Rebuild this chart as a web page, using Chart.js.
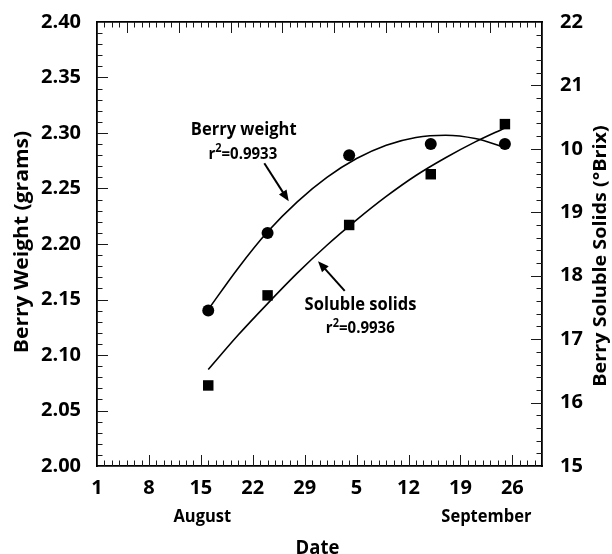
<!DOCTYPE html>
<html><head><meta charset="utf-8">
<script src="https://cdn.jsdelivr.net/npm/chart.js@4.4.1/dist/chart.umd.min.js"></script>
<style>html,body{margin:0;padding:0;background:#fff}canvas{display:block}</style>
</head><body>
<canvas id="c" width="612" height="554"></canvas>
<script>
// Day index: 1 = Aug 1, 32 = Sep 1
const sampleDays = [16, 24, 35, 46, 56];
const berryWeight = [2.14, 2.21, 2.28, 2.29, 2.29];          // grams, left axis
const solubleSolids = [16.27, 17.69, 18.80, 19.60, 20.39];     // °Brix, right axis
// Fitted curves
const fitDays = [16, 20, 24, 28, 32, 36, 40, 44, 48, 52, 56];
const weightFit = [2.141, 2.178, 2.211, 2.238, 2.260, 2.277, 2.289, 2.296, 2.298, 2.295, 2.287];
const solidsFit = [16.52, 17.06, 17.56, 18.04, 18.48, 18.88, 19.25, 19.58, 19.86, 20.11, 20.33];
const fitR2 = ['0.9933', '0.9936'];
// Axis ticks
const xTickDays = [1, 8, 15, 22, 29, 36, 43, 50, 57];
const xTickLabels = ['1', '8', '15', '22', '29', '5', '12', '19', '26'];
const topMajorDays = [5, 12, 19, 26, 33, 40, 47, 54];
const rightTickValues = [15, 16, 17, 18, 19, 20, 21, 22];
const rightTickLabels = ['15', '16', '17', '18', '19', '10', '21', '22'];
const monthLabels = ['August', 'September'];
const monthDays = [15.2, 53.5];

const FONT = '"Open Sans", "Noto Sans", sans-serif';
const STRETCH = 1.1;

const inwardTicks = {
  id: 'inwardTicks',
  beforeDatasetsDraw(chart) {
    const {ctx, chartArea: a, scales} = chart;
    const sx = scales.x, sy = scales.y, sy2 = scales.y2;
    const MAJ = 11, MIN = 5.5;
    ctx.save();
    ctx.strokeStyle = '#1a1a1a';
    ctx.lineWidth = 1;
    ctx.beginPath();
    for (let d = sx.min + 1; d < sx.max; d++) {
      const px = Math.round(sx.getPixelForValue(d)) + 0.5;
      const lb = xTickDays.includes(d) ? MAJ : MIN;
      ctx.moveTo(px, a.bottom); ctx.lineTo(px, a.bottom - lb);
      const lt = topMajorDays.includes(d) ? MAJ : MIN;
      ctx.moveTo(px, a.top); ctx.lineTo(px, a.top + lt);
    }
    for (let i = 1; i < 40; i++) {
      const py = Math.round(sy.getPixelForValue(sy.min + i * 0.01)) + 0.5;
      const l = i % 5 === 0 ? MAJ : MIN;
      ctx.moveTo(a.left, py); ctx.lineTo(a.left + l, py);
    }
    for (let i = 1; i < 35; i++) {
      const py = Math.round(sy2.getPixelForValue(sy2.min + i * 0.2)) + 0.5;
      const l = i % 5 === 0 ? MAJ : MIN;
      ctx.moveTo(a.right, py); ctx.lineTo(a.right - l, py);
    }
    ctx.stroke();
    ctx.restore();
  }
};

// horizontal text, slightly stretched vertically like the source figure
function textS(ctx, s, x, y, align) {
  ctx.save();
  ctx.translate(x, y);
  ctx.scale(1, STRETCH);
  ctx.textAlign = align || 'center';
  ctx.fillText(s, 0, 0);
  ctx.restore();
}

function drawR2(ctx, cx, baseline, value) {
  const big = 'bold 15px ' + FONT, small = 'bold 11px ' + FONT;
  ctx.font = big;
  const wr = ctx.measureText('r').width;
  const wrest = ctx.measureText('=' + value).width;
  ctx.font = small;
  const w2 = ctx.measureText('2').width;
  let xx = cx - (wr + w2 + wrest) / 2;
  ctx.font = big; textS(ctx, 'r', xx, baseline, 'left'); xx += wr;
  ctx.font = small; textS(ctx, '2', xx, baseline - 6.5, 'left'); xx += w2;
  ctx.font = big; textS(ctx, '=' + value, xx, baseline, 'left');
}

function drawArrow(ctx, x0, y0, x1, y1) {
  const ang = Math.atan2(y1 - y0, x1 - x0);
  const hl = 11, hw = 4.5;
  ctx.beginPath();
  ctx.moveTo(x0, y0);
  ctx.lineTo(x1 - Math.cos(ang) * hl * 0.8, y1 - Math.sin(ang) * hl * 0.8);
  ctx.stroke();
  ctx.beginPath();
  ctx.moveTo(x1, y1);
  ctx.lineTo(x1 - Math.cos(ang) * hl - Math.sin(ang) * hw, y1 - Math.sin(ang) * hl + Math.cos(ang) * hw);
  ctx.lineTo(x1 - Math.cos(ang) * hl + Math.sin(ang) * hw, y1 - Math.sin(ang) * hl - Math.cos(ang) * hw);
  ctx.closePath();
  ctx.fill();
}

function verticalTitle(ctx, s, x, yc, size, lenScale) {
  ctx.save();
  ctx.font = 'bold ' + size + 'px ' + FONT;
  ctx.textAlign = 'center';
  ctx.translate(x, yc);
  ctx.rotate(-Math.PI / 2);
  ctx.scale(lenScale, 1);
  ctx.fillText(s, 0, 0);
  ctx.restore();
}

const textPlugin = {
  id: 'texts',
  afterDraw(chart) {
    const {ctx, chartArea: a, scales: {x, y, y2}} = chart;
    ctx.save();
    ctx.fillStyle = '#000';
    ctx.strokeStyle = '#000';
    ctx.lineWidth = 2;
    ctx.textBaseline = 'alphabetic';
    // Axis titles
    verticalTitle(ctx, 'Berry Weight (grams)', 27.5, 242, 19.5, 1.08);
    verticalTitle(ctx, 'Berry Soluble Solids (°Brix)', 605.5, 256, 18.5, 1.07);
    ctx.font = 'bold 18.5px ' + FONT;
    textS(ctx, 'Date', (a.left + a.right) / 2 - 2, 553.5);
    ctx.font = 'bold 16.5px ' + FONT;
    monthLabels.forEach((m, i) => textS(ctx, m, x.getPixelForValue(monthDays[i]), 521.7));
    // Curve annotations
    ctx.font = 'bold 16.5px ' + FONT;
    textS(ctx, 'Berry weight', x.getPixelForValue(20.78), y.getPixelForValue(2.2983));
    drawR2(ctx, x.getPixelForValue(20.66), y.getPixelForValue(2.2767), fitR2[0]);
    drawArrow(ctx, x.getPixelForValue(23.56), y.getPixelForValue(2.2727), x.getPixelForValue(26.85), y.getPixelForValue(2.2385));
    ctx.font = 'bold 16.5px ' + FONT;
    textS(ctx, 'Soluble solids', x.getPixelForValue(36.53), y2.getPixelForValue(17.46));
    drawR2(ctx, x.getPixelForValue(36.5), y2.getPixelForValue(17.089), fitR2[1]);
    drawArrow(ctx, x.getPixelForValue(34.4), y2.getPixelForValue(17.76), x.getPixelForValue(30.8), y2.getPixelForValue(18.23));
    ctx.restore();
  }
};

const tickFont = {family: FONT, size: 20, weight: 'bold'};
const border = {display: true, color: '#000', width: 1.8};

new Chart(document.getElementById('c'), {
  type: 'scatter',
  data: {
    datasets: [
      {
        type: 'line', label: 'Berry weight fit', yAxisID: 'y',
        data: fitDays.map((d, i) => ({x: d, y: weightFit[i]})),
        borderColor: '#000', borderWidth: 1.6, pointRadius: 0, fill: false,
        cubicInterpolationMode: 'monotone'
      },
      {
        type: 'line', label: 'Soluble solids fit', yAxisID: 'y2',
        data: fitDays.map((d, i) => ({x: d, y: solidsFit[i]})),
        borderColor: '#000', borderWidth: 1.6, pointRadius: 0, fill: false,
        cubicInterpolationMode: 'monotone'
      },
      {
        label: 'Berry weight', yAxisID: 'y',
        data: sampleDays.map((d, i) => ({x: d, y: berryWeight[i]})),
        pointStyle: 'circle', pointRadius: 6, backgroundColor: '#000', borderColor: '#000', borderWidth: 0
      },
      {
        label: 'Soluble solids', yAxisID: 'y2',
        data: sampleDays.map((d, i) => ({x: d, y: solubleSolids[i]})),
        pointStyle: 'rect', pointRadius: 7.4, backgroundColor: '#000', borderColor: '#000', borderWidth: 0
      }
    ]
  },
  options: {
    responsive: false,
    animation: false,
    events: [],
    layout: {padding: 0},
    plugins: {legend: {display: false}, tooltip: {enabled: false}},
    scales: {
      x: {
        type: 'linear', position: 'bottom', min: 1, max: 61,
        afterBuildTicks: s => { s.ticks = xTickDays.map(v => ({value: v})); },
        ticks: {callback: (v, i) => xTickLabels[i], font: tickFont, color: '#000', padding: 2, maxRotation: 0, autoSkip: false},
        grid: {display: false}, border: border,
        afterFit: s => { s.height = 88; }
      },
      x2: {
        type: 'linear', position: 'top', min: 1, max: 61,
        ticks: {display: false}, grid: {display: false}, border: border,
        afterFit: s => { s.height = 22; }
      },
      y: {
        position: 'left', min: 2.0, max: 2.4,
        ticks: {stepSize: 0.05, callback: v => v.toFixed(2), font: tickFont, color: '#000', padding: 8},
        grid: {display: false}, border: border,
        afterFit: s => { s.width = 97; }
      },
      y2: {
        position: 'right', min: 15, max: 22,
        afterBuildTicks: s => { s.ticks = rightTickValues.map(v => ({value: v})); },
        ticks: {callback: (v, i) => rightTickLabels[i], font: tickFont, color: '#000', padding: 10},
        grid: {display: false}, border: border,
        afterFit: s => { s.width = 70; }
      }
    }
  },
  plugins: [inwardTicks, textPlugin]
});
</script>
</body></html>
